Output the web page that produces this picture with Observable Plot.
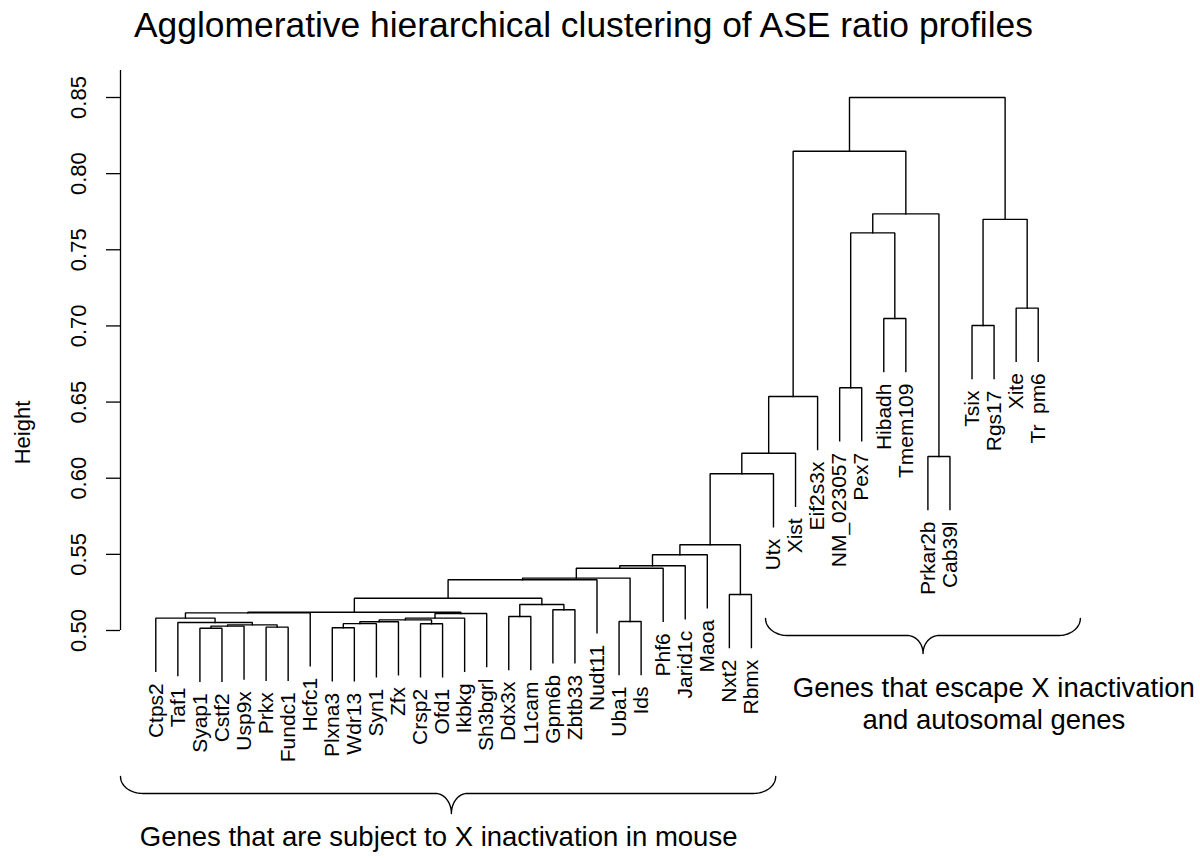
<!DOCTYPE html>
<html><head><meta charset="utf-8">
<script src="https://cdn.jsdelivr.net/npm/d3@7"></script>
<script src="https://cdn.jsdelivr.net/npm/@observablehq/plot@0.6"></script>
<style>
body{margin:0;background:#fff;font-family:"Liberation Sans",Arial,Helvetica,sans-serif;}
#title{width:1167px;height:60px;line-height:50px;font-size:35.4px;text-align:center;color:#000;white-space:nowrap;}
#chart svg{display:block;}
</style></head><body>
<div id="title">Agglomerative hierarchical clustering of ASE ratio profiles</div>
<div id="chart"></div>
<script>
// Leaf order (left to right)
const labels = ["Ctps2","Taf1","Syap1","Cstf2","Usp9x","Prkx","Fundc1","Hcfc1","Plxna3","Wdr13",
  "Syn1","Zfx","Crsp2","Ofd1","Ikbkg","Sh3bgrl","Ddx3x","L1cam","Gpm6b","Zbtb33",
  "Nudt11","Uba1","Ids","Phf6","Jarid1c","Maoa","Nxt2","Rbmx","Utx","Xist",
  "Eif2s3x","NM_023057","Pex7","Hibadh","Tmem109","Prkar2b","Cab39l","Tsix","Rgs17","Xite","Tr\u2002pm6"];

// Merge steps: merge k (1-based) is referred to as "m<k>"
const mergeLeft  = ["Syap1","Prkx","m1","m3","Taf1","Ctps2","m6","Plxna3","m8","m9",
  "Crsp2","m10","m12","m13","m7","Ddx3x","Gpm6b","m16","m15","m19",
  "Uba1","m20","m22","m23","m24","Nxt2","m25","m27","m28","m29",
  "NM_023057","Hibadh","m31","Prkar2b","m33","m30","Tsix","Xite","m37","m36"];
const mergeRight = ["Cstf2","Fundc1","Usp9x","m2","m4","m5","Hcfc1","Wdr13","Syn1","Zfx",
  "Ofd1","m11","Ikbkg","Sh3bgrl","m14","L1cam","Zbtb33","m17","m18","Nudt11",
  "Ids","m21","Phf6","Jarid1c","Maoa","Rbmx","m26","Utx","Xist","Eif2s3x",
  "Pex7","Tmem109","m32","Cab39l","m34","m35","Rgs17","Tr\u2002pm6","m38","m39"];
const mergeHeight = [0.5015,0.5022,0.5029,0.5037,0.5053,0.5081,0.5116,0.5018,0.5045,0.5057,
  0.5044,0.5070,0.5081,0.5112,0.5120,0.5092,0.5136,0.5171,0.5212,0.5333,
  0.5059,0.5344,0.5409,0.5425,0.5497,0.5236,0.5563,0.6029,0.6164,0.6537,
  0.6594,0.7049,0.7611,0.6143,0.7736,0.8147,0.7003,0.7117,0.7700,0.8500];

const yTicks = [0.50,0.55,0.60,0.65,0.70,0.75,0.80,0.85];
const yLabel = "Height";
const captions = ["Genes that are subject to X inactivation in mouse",
                  "Genes that escape X inactivation\nand autosomal genes"];

// ---- layout / annotation config ----
const xDomain = [-1.6, labels.length + 0.6];
const axisTop = 0.8677;
const braceCfg = [
  {x0: -1.6, x1: 28.1, xm: 13.4, yTop: 0.4041, yMid: 0.3930, yTip: 0.3798, cx: 12.82, cy: 0.3739},
  {x0: 27.64, x1: 41.91, xm: 34.78, yTop: 0.5079, yMid: 0.4967, yTip: 0.4849, cx: 37.99, cy: 0.4718}
];
const endR = 1.0, tipR = 0.72;

// ---- build dendrogram geometry from the merges ----
const nodes = new Map();
labels.forEach((name, i) => nodes.set(name, {x: i, h: null}));
const hang = 0.1 * (d3.max(mergeHeight) - d3.min(mergeHeight));
const branchPts = [];
const leafPts = [];
mergeLeft.forEach((ln, i) => {
  const rn = mergeRight[i];
  const a = nodes.get(ln), b = nodes.get(rn), h = mergeHeight[i];
  const ya = a.h ?? h - hang, yb = b.h ?? h - hang;
  [[a.x, ya], [a.x, h], [b.x, h], [b.x, yb]].forEach(([x, y]) => branchPts.push({id: i, x, y}));
  if (a.h === null) leafPts.push({label: ln, x: a.x, y: ya});
  if (b.h === null) leafPts.push({label: rn, x: b.x, y: yb});
  nodes.set("m" + (i + 1), {x: (a.x + b.x) / 2, h});
});

// ---- curly braces ----
const bracePts = [];
braceCfg.forEach((c, k) => {
  const n = 24, pts = [];
  for (let j = 0; j <= n; j++) { const t = j / n * Math.PI / 2;
    pts.push([c.x0 + endR * (1 - Math.cos(t)), c.yTop - (c.yTop - c.yMid) * Math.sin(t)]); }
  for (let j = 0; j <= n; j++) { const t = j / n * Math.PI / 2;
    pts.push([c.xm - tipR + tipR * Math.sin(t), c.yMid - (c.yMid - c.yTip) * (1 - Math.cos(t))]); }
  for (let j = n; j >= 0; j--) { const t = j / n * Math.PI / 2;
    pts.push([c.xm + tipR - tipR * Math.sin(t), c.yMid - (c.yMid - c.yTip) * (1 - Math.cos(t))]); }
  for (let j = n; j >= 0; j--) { const t = j / n * Math.PI / 2;
    pts.push([c.x1 - endR * (1 - Math.cos(t)), c.yTop - (c.yTop - c.yMid) * Math.sin(t)]); }
  pts.forEach(([x, y]) => bracePts.push({id: k, x, y}));
});

const font = "Liberation Sans, Arial, Helvetica, sans-serif";
const chart = Plot.plot({
  width: 1200,
  height: 798,
  marginLeft: 120,
  marginRight: 127,
  marginTop: 0,
  marginBottom: 0,
  style: {fontFamily: font, background: "#fff", color: "#000"},
  x: {domain: xDomain, axis: null},
  y: {domain: [0.50, 0.85], range: [570, 37]},
  marks: [
    Plot.axisY({ticks: yTicks, tickSize: 14, tickFormat: () => "", label: null, strokeWidth: 1.3}),
    Plot.ruleX([xDomain[0]], {y1: yTicks[0], y2: axisTop, stroke: "#000", strokeWidth: 1.3}),
    Plot.text(yTicks, {y: d => d, text: d => d.toFixed(2), frameAnchor: "left", textAnchor: "middle",
      dx: -42, rotate: -90, fontSize: 22, fill: "#000", fontFamily: font}),
    Plot.text([yLabel], {y: 0.63, frameAnchor: "left", textAnchor: "middle", dx: -98, rotate: -90,
      fontSize: 22, fill: "#000", fontFamily: font}),
    Plot.line(branchPts, {x: "x", y: "y", z: "id", stroke: "#000", strokeWidth: 1.4, strokeLinejoin: "miter", strokeLinecap: "square"}),
    Plot.text(leafPts, {x: "x", y: "y", text: "label", rotate: -90, textAnchor: "end", dy: 12,
      fontSize: 21, fill: "#000", fontFamily: font}),
    Plot.line(bracePts, {x: "x", y: "y", z: "id", stroke: "#000", strokeWidth: 1.4, curve: "linear"}),
    Plot.text(braceCfg, {x: "cx", y: "cy", text: (d, i) => captions[i], lineAnchor: "top", lineHeight: 1.19,
      fontSize: 27.5, fill: "#000", fontFamily: font})
  ]
});
document.getElementById("chart").appendChild(chart);
</script>
</body></html>
